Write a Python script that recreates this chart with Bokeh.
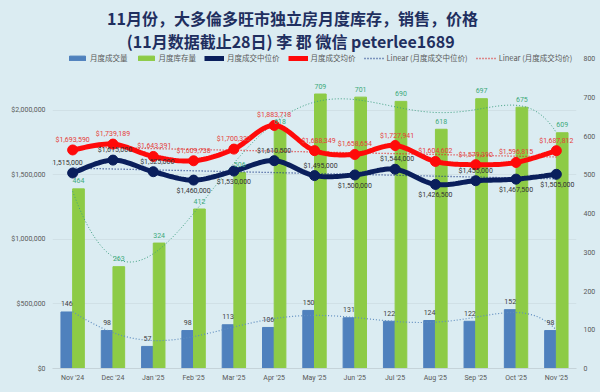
import numpy as np
from bokeh.plotting import figure
from bokeh.models import (Range1d, LinearAxis, FixedTicker, NumeralTickFormatter,
                          Legend, LegendItem, Label)
from bokeh.core.properties import value
from bokeh.embed import file_html
from bokeh.resources import INLINE

# ---------------- data ----------------
months = ["Nov '24", "Dec '24", "Jan '25", "Feb '25", "Mar '25", "Apr '25", "May '25",
          "Jun '25", "Jul '25", "Aug '25", "Sep '25", "Oct '25", "Nov '25"]
sales = [146, 98, 57, 98, 113, 106, 150, 131, 122, 124, 122, 152, 98]
inventory = [464, 263, 324, 412, 506, 618, 709, 701, 690, 618, 697, 675, 609]
median_price = [1515000, 1615000, 1525000, 1460000, 1530000, 1610500, 1495000,
                1500000, 1544000, 1426500, 1455000, 1467500, 1505000]
mean_price = [1693590, 1739189, 1643391, 1609738, 1700332, 1883718, 1688349,
              1658654, 1727941, 1604602, 1579390, 1596815, 1687812]
left_ticks = [0, 500000, 1000000, 1500000, 2000000]
left_max = 2400000
right_ticks = [0, 100, 200, 300, 400, 500, 600, 700, 800]
right_max = 800
title1 = "11月份，大多倫多旺市独立房月度库存，销售，价格"
title2 = "(11月数据截止28日) 李 郡  微信 peterlee1689"
legend_labels = ["月度成交量", "月度库存量", "月度成交中位价", "月度成交均价",
                 "Linear (月度成交中位价)", "Linear (月度成交均价)"]

# label placement styling (above / below, horizontal nudge in px)
med_pos = [-1, -1, -1, 1, 1, -1, -1, 1, -1, 1, -1, 1, 1]
med_dx = [-7, 2, 4, 0, 0, 0, 6, 0, 2, 0, 0, 0, 1]
mean_dx = [0, 0, 1, 0, 0, 0, 4, 0, 2, 0, 0, 0, 0]

# ---------------- style / geometry ----------------
BG = "#DBECF2"
BLUE = "#4F81BD"
GREEN = "#8DCB46"
NAVY = "#0A1F5C"
RED = "#FF0A0A"
GRAY = "#595959"
CJK = "Noto Sans CJK SC"
NUMF = "Roboto"

W, H = 600, 392
FL = 52           # frame left (px)
FB = 368.0        # frame bottom / frame height (px from figure top; frame top at 0)
TOPTICK = 58.3    # where the top tick (800 / 2.4M) sits (px from figure top)
scale = FB / (FB - TOPTICK)

p = figure(width=W, height=H, output_backend="svg", toolbar_location=None,
           title=None,
           x_range=Range1d(0, len(months)), y_range=Range1d(0, left_max * scale),
           min_border_left=FL, min_border_right=24, min_border_bottom=int(H - FB),
           min_border_top=0,
           background_fill_color=BG, border_fill_color=BG, outline_line_color=None)

p.extra_y_ranges = {"cnt": Range1d(0, right_max * scale)}

n = len(months)
xs = np.arange(n) + 0.5

# axes
p.xaxis.ticker = FixedTicker(ticks=list(xs))
p.xaxis.major_label_overrides = {float(x): m for x, m in zip(xs, months)}
p.xaxis.major_tick_line_color = None
p.xaxis.major_tick_out = 0
p.xaxis.major_tick_in = 0
p.xaxis.minor_tick_line_color = None
p.xaxis.axis_line_color = "#C5D3D9"
p.xaxis.major_label_text_font = NUMF
p.xaxis.major_label_text_font_size = "7px"
p.xaxis.major_label_text_color = GRAY
p.xaxis.major_label_standoff = 5

p.yaxis.ticker = FixedTicker(ticks=left_ticks)
p.yaxis.formatter = NumeralTickFormatter(format="$0,0")
p.yaxis.major_tick_line_color = None
p.yaxis.major_tick_out = 0
p.yaxis.major_tick_in = 0
p.yaxis.minor_tick_line_color = None
p.yaxis.axis_line_color = None
p.yaxis.major_label_text_font = NUMF
p.yaxis.major_label_text_font_size = "7px"
p.yaxis.major_label_text_color = GRAY
p.yaxis.major_label_standoff = 7

ra = LinearAxis(y_range_name="cnt", ticker=FixedTicker(ticks=right_ticks))
ra.major_tick_line_color = None
ra.major_tick_out = 0
ra.major_tick_in = 0
ra.minor_tick_line_color = None
ra.axis_line_color = None
ra.major_label_text_font = NUMF
ra.major_label_text_font_size = "7px"
ra.major_label_text_color = GRAY
ra.major_label_standoff = 7
p.add_layout(ra, "right")

p.xgrid.visible = False
p.ygrid.ticker = FixedTicker(ticks=left_ticks)
p.ygrid.grid_line_color = "#D0E0E6"

# bars
bw = 0.29
r_sales = p.vbar(x=xs - 0.145, top=sales, width=bw, color=BLUE, y_range_name="cnt")
r_inv = p.vbar(x=xs + 0.145, top=inventory, width=bw, color=GREEN, y_range_name="cnt")

# polynomial trendlines (computed from data, Excel-style x = 1..n)
xe = np.arange(1, n + 1)
xx = np.linspace(1, n, 200)
inv_fit = np.polyval(np.polyfit(xe, inventory, 6), xx)
sal_fit = np.polyval(np.polyfit(xe, sales, 6), xx)
p.line(xx - 0.5, inv_fit, color="#3E9F80", line_width=1, line_dash="1 2", y_range_name="cnt")
p.line(xx - 0.5, sal_fit, color="#5F8DBF", line_width=1.2, line_dash="1 2", y_range_name="cnt")

# linear trendlines
med_lin = np.polyval(np.polyfit(xe, median_price, 1), xe)
mean_lin = np.polyval(np.polyfit(xe, mean_price, 1), xe)
r_med_lin = p.line(xs, med_lin, color="#1F3C88", line_width=1.3, line_dash="1 2")
r_mean_lin = p.line(xs, mean_lin, color="#E02020", line_width=1.3, line_dash="1 2")


def smooth(x, y, k=16):
    x = np.asarray(x, float)
    y = np.asarray(y, float)
    ox, oy = [], []
    m = len(x)
    for i in range(m - 1):
        i0 = max(i - 1, 0)
        i3 = min(i + 2, m - 1)
        t = np.linspace(0, 1, k, endpoint=False)
        for arr, out in ((x, ox), (y, oy)):
            P0, P1, P2, P3 = arr[i0], arr[i], arr[i + 1], arr[i3]
            out.extend(0.5 * (2 * P1 + (-P0 + P2) * t + (2 * P0 - 5 * P1 + 4 * P2 - P3) * t ** 2
                              + (-P0 + 3 * P1 - 3 * P2 + P3) * t ** 3))
    ox.append(x[-1])
    oy.append(y[-1])
    return ox, oy


sx, sy = smooth(xs, mean_price)
r_mean_line = p.line(sx, sy, color=RED, line_width=5)
r_mean_pts = p.scatter(xs, mean_price, size=10, color=RED)
sx, sy = smooth(xs, median_price)
r_med_line = p.line(sx, sy, color=NAVY, line_width=5)
r_med_pts = p.scatter(xs, median_price, size=10, color=NAVY)

# data labels
p.text(xs - 0.145, sales, text=[str(v) for v in sales], y_range_name="cnt",
       text_font=value(NUMF), text_font_size="7px", text_color="#404040",
       text_align="center", text_baseline="middle", y_offset=-8)
p.text(xs + 0.145, inventory, text=[str(v) for v in inventory], y_range_name="cnt",
       text_font=value(NUMF), text_font_size="7px", text_color="#3BAA7A",
       text_align="center", text_baseline="middle", y_offset=-8)
p.text(xs, mean_price, text=[f"${v:,}" for v in mean_price],
       text_font=value(NUMF), text_font_size="7px", text_color="#E5403A",
       text_align="center", text_baseline="middle", y_offset=-10, x_offset=mean_dx)
p.text(xs, median_price, text=[f"${v:,}" for v in median_price],
       text_font=value(NUMF), text_font_size="7px", text_color="#333333",
       text_align="center", text_baseline="middle",
       y_offset=[10 * s + (1 if s > 0 else 0) for s in med_pos], x_offset=med_dx)

# titles (inside the frame, in screen px measured from frame bottom-left)
for txt, ty in ((title1, 17), (title2, 40)):
    p.add_layout(Label(x=292 - FL, y=FB - ty, x_units="screen", y_units="screen",
                       text=txt, text_font=CJK, text_font_size="16px",
                       text_font_style="bold", text_color="#1F2F5F",
                       text_align="center", text_baseline="middle"))

legend = Legend(items=[
    LegendItem(label=legend_labels[0], renderers=[r_sales]),
    LegendItem(label=legend_labels[1], renderers=[r_inv]),
    LegendItem(label=legend_labels[2], renderers=[r_med_line, r_med_pts]),
    LegendItem(label=legend_labels[3], renderers=[r_mean_line, r_mean_pts]),
    LegendItem(label=legend_labels[4], renderers=[r_med_lin]),
    LegendItem(label=legend_labels[5], renderers=[r_mean_lin]),
], orientation="horizontal", location=(69 - 2 - FL, FB - 63),
    label_text_font=CJK, label_text_font_size="7.5px", label_text_color=GRAY,
    glyph_width=20, glyph_height=6, label_height=8, label_standoff=3,
    spacing=8, padding=2, margin=0,
    background_fill_alpha=0, border_line_color=None)
p.add_layout(legend)

html = file_html(p, INLINE, title="chart")
html = html.replace("<head>", "<head><style>html,body{background:#DBECF2;}</style>", 1)
open("out.html", "w").write(html)
